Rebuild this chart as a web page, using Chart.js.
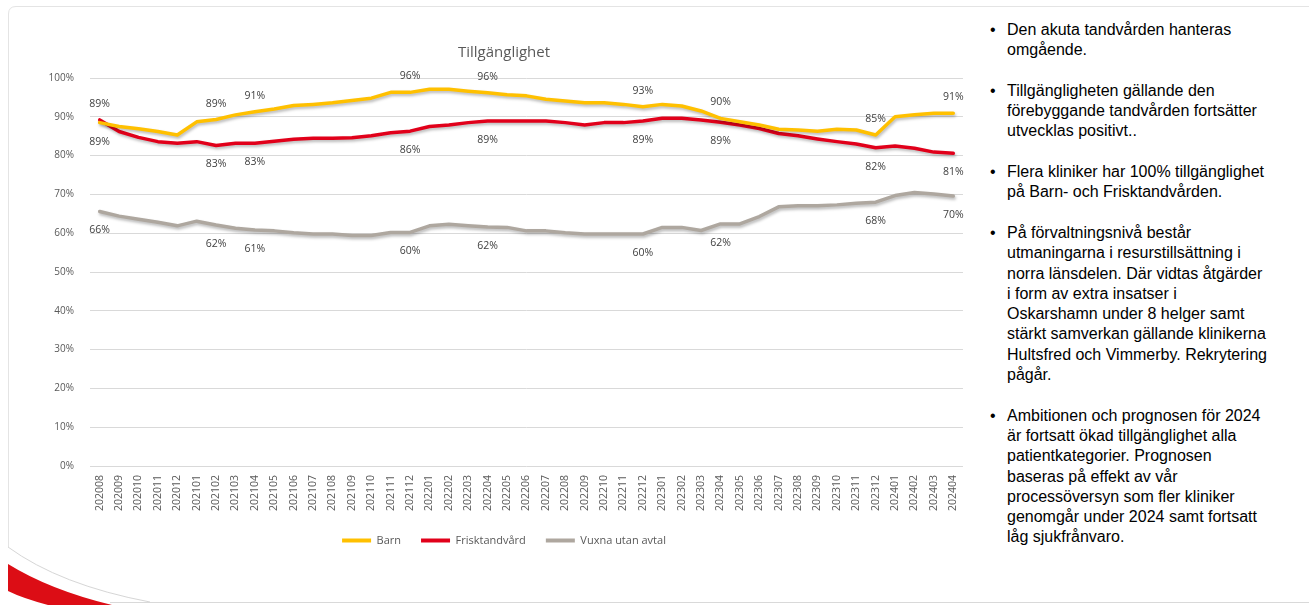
<!DOCTYPE html>
<html lang="sv">
<head>
<meta charset="utf-8">
<title>Tillgänglighet</title>
<script src="https://cdn.jsdelivr.net/npm/chart.js@4.4.1/dist/chart.umd.min.js"></script>
<style>
  html, body { margin: 0; padding: 0; background: #fff; }
  body { width: 1309px; height: 605px; position: relative; overflow: hidden; }
  #deco { position: absolute; left: 0; top: 0; }
  #chartBox { position: absolute; left: 0; top: 0; width: 975px; height: 560px; }
  #notes {
    position: absolute; left: 1007px; top: 20px;
    font-family: "Liberation Sans", Arial, sans-serif;
    font-size: 16px; line-height: 20.3px; color: #000;
    white-space: nowrap;
  }
  #notes p { margin: 0 0 20.3px 0; position: relative; }
  #notes p::before { content: "\2022"; position: absolute; left: -17px; }
</style>
</head>
<body>

<svg id="deco" width="1309" height="605">
  <path d="M8.5,547 L8.5,14 Q8.5,6.5 16,6.5 L1309,6.5" fill="none" stroke="#e4e4e4" stroke-width="1"/>
  <path d="M110,602.5 L1309,602.5" fill="none" stroke="#d9d9d9" stroke-width="1"/>
  <path d="M8,547 Q60,585 150,602" fill="none" stroke="#d6d6d6" stroke-width="1"/>
  <path d="M8,564 Q50,590 112,605 L48,605 Q22,598 8,591 Z" fill="#dc0d15"/>
</svg>

<div id="chartBox"><canvas id="tillgChart"></canvas></div>

<div id="notes">
  <p>Den akuta tandvården hanteras<br>omgående.</p>
  <p>Tillgängligheten gällande den<br>förebyggande tandvården fortsätter<br>utvecklas positivt..</p>
  <p>Flera kliniker har 100% tillgänglighet<br>på Barn- och Frisktandvården.</p>
  <p>På förvaltningsnivå består<br>utmaningarna i resurstillsättning i<br>norra länsdelen. Där vidtas åtgärder<br>i form av extra insatser i<br>Oskarshamn under 8 helger samt<br>stärkt samverkan gällande klinikerna<br>Hultsfred och Vimmerby. Rekrytering<br>pågår.</p>
  <p>Ambitionen och prognosen för 2024<br>är fortsatt ökad tillgänglighet alla<br>patientkategorier. Prognosen<br>baseras på effekt av vår<br>processöversyn som fler kliniker<br>genomgår under 2024 samt fortsatt<br>låg sjukfrånvaro.</p>
</div>

<script>
const months = ['202008', '202009', '202010', '202011', '202012',
  '202101', '202102', '202103', '202104', '202105', '202106', '202107', '202108', '202109', '202110', '202111', '202112',
  '202201', '202202', '202203', '202204', '202205', '202206', '202207', '202208', '202209', '202210', '202211', '202212',
  '202301', '202302', '202303', '202304', '202305', '202306', '202307', '202308', '202309', '202310', '202311', '202312',
  '202401', '202402', '202403', '202404'];

const barn = [88.5, 87.5, 86.9, 86.2, 85.3,
  88.7, 89.3, 90.5, 91.3, 92.0, 92.9, 93.2, 93.6, 94.2, 94.8, 96.3, 96.3,
  97.1, 97.1, 96.6, 96.2, 95.7, 95.4, 94.5, 94.1, 93.6, 93.6, 93.2, 92.6,
  93.2, 92.8, 91.5, 89.6, 88.7, 87.9, 86.8, 86.6, 86.3, 86.8, 86.6, 85.3,
  90.0, 90.5, 90.9, 90.9];

const frisk = [89.2, 86.2, 84.7, 83.6, 83.2,
  83.6, 82.6, 83.2, 83.2, 83.7, 84.2, 84.5, 84.5, 84.6, 85.1, 85.9, 86.3,
  87.5, 87.9, 88.5, 88.9, 88.9, 88.9, 88.9, 88.5, 87.9, 88.5, 88.5, 88.9,
  89.6, 89.6, 89.2, 88.6, 87.9, 87.0, 85.7, 85.1, 84.3, 83.6, 83.0, 82.0,
  82.5, 81.9, 80.9, 80.6];

const vuxna = [65.6, 64.4, 63.6, 62.8, 61.9,
  63.1, 62.1, 61.3, 60.8, 60.6, 60.1, 59.8, 59.8, 59.4, 59.4, 60.2, 60.2,
  61.9, 62.3, 61.9, 61.6, 61.5, 60.6, 60.6, 60.1, 59.8, 59.8, 59.8, 59.8,
  61.5, 61.5, 60.7, 62.4, 62.4, 64.3, 66.8, 67.1, 67.1, 67.3, 67.7, 68.0,
  69.7, 70.5, 70.1, 69.6];

// points that carry a value label
const labelledPoints = [0, 6, 8, 16, 20, 28, 32, 40, 44];

Chart.defaults.font.family = "'Open Sans', sans-serif";
Chart.defaults.color = '#595959';

// soft drop shadow under the lines, like the Excel original
const lineShadow = {
  id: 'lineShadow',
  beforeDatasetDraw(chart) {
    const c = chart.ctx;
    c.save();
    c.shadowColor = 'rgba(0,0,0,0.28)';
    c.shadowBlur = 3;
    c.shadowOffsetX = 1;
    c.shadowOffsetY = 2;
  },
  afterDatasetDraw(chart) {
    chart.ctx.restore();
  }
};

// value labels above / below the chosen points
const pointLabels = {
  id: 'pointLabels',
  afterDatasetsDraw(chart) {
    const c = chart.ctx;
    c.save();
    c.font = "10.5px 'Open Sans', sans-serif";
    c.fillStyle = '#404040';
    c.textAlign = 'center';
    c.textBaseline = 'middle';
    chart.data.datasets.forEach(function (ds, di) {
      const meta = chart.getDatasetMeta(di);
      labelledPoints.forEach(function (i) {
        const pt = meta.data[i];
        const above = ds.labelAbove.indexOf(i) >= 0;
        const y = above ? pt.y - 16 : pt.y + 19;
        c.fillText(Math.round(ds.data[i]) + '%', pt.x, y);
      });
    });
    c.restore();
  }
};

const ctx = document.getElementById('tillgChart');

new Chart(ctx, {
  type: 'line',
  data: {
    labels: months,
    datasets: [{
      label: 'Barn',
      data: barn,
      borderColor: '#ffc000',
      backgroundColor: '#ffc000',
      labelAbove: labelledPoints.slice(1)
    }, {
      label: 'Frisktandvård',
      data: frisk,
      borderColor: '#e1001a',
      backgroundColor: '#e1001a',
      labelAbove: [0]
    }, {
      label: 'Vuxna utan avtal',
      data: vuxna,
      borderColor: '#aea79f',
      backgroundColor: '#aea79f',
      labelAbove: []
    }]
  },
  options: {
    responsive: true,
    maintainAspectRatio: false,
    animation: false,
    elements: {
      line: { borderWidth: 3.5, tension: 0, borderCapStyle: 'round', borderJoinStyle: 'round' },
      point: { radius: 0, hoverRadius: 0 }
    },
    layout: { padding: { left: 44, right: 11, top: 0, bottom: 4 } },
    plugins: {
      title: {
        display: true,
        text: 'Tillgänglighet',
        color: '#595959',
        font: { size: 15, weight: 'normal' },
        padding: { top: 44, bottom: 16 }
      },
      legend: {
        position: 'bottom',
        labels: {
          boxWidth: 29,
          boxHeight: 4,
          padding: 20,
          color: '#595959',
          font: { size: 11 },
          generateLabels(chart) {
            return Chart.defaults.plugins.legend.labels.generateLabels(chart).map(function (l) {
              l.lineWidth = 0;
              return l;
            });
          }
        }
      },
      tooltip: { enabled: false }
    },
    scales: {
      x: {
        offset: true,
        grid: { display: false, drawTicks: false },
        border: { display: false },
        ticks: { minRotation: 90, maxRotation: 90, autoSkip: false, padding: 9, font: { size: 10.5 }, color: '#595959' },
        afterFit(scale) { scale.height = 49; }
      },
      y: {
        min: 0,
        max: 100,
        grid: { color: '#d9d9d9', drawTicks: false },
        border: { display: false },
        ticks: {
          stepSize: 10,
          padding: 16,
          font: { size: 10 },
          color: '#595959',
          callback: function (v) { return v + '%'; }
        },
        afterFit(scale) { scale.width = 46; }
      }
    }
  },
  plugins: [lineShadow, pointLabels]
});
</script>
</body>
</html>
